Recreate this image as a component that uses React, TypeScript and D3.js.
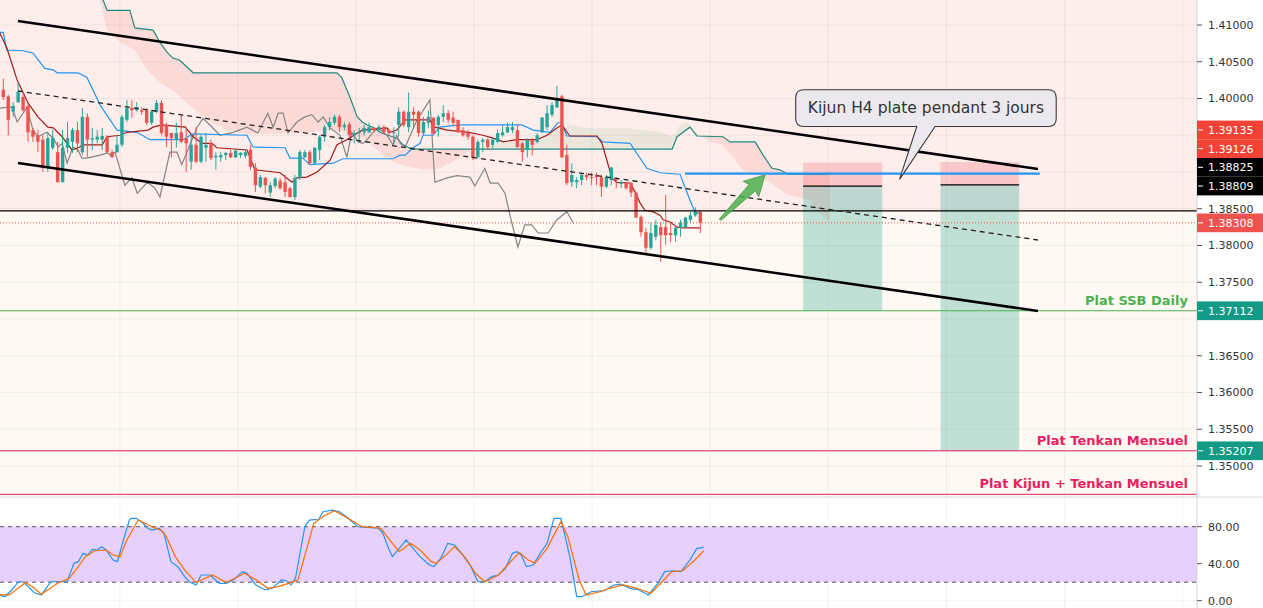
import React from 'react';
import * as d3 from 'd3';

type P = [number, number];
type C = [number, number, number, number];

// H4 candles [open, high, low, close]
const candles: C[] = [
  [1.4012, 1.4027, 1.3998, 1.4002], [1.4003, 1.4005, 1.395, 1.3971], [1.3982, 1.3995, 1.3975, 1.399], [1.3995, 1.4021, 1.3994, 1.4009],
  [1.4002, 1.4009, 1.3982, 1.3984], [1.399, 1.3994, 1.3941, 1.3954], [1.3957, 1.396, 1.3941, 1.3948], [1.395, 1.3957, 1.3927, 1.3941],
  [1.3944, 1.395, 1.39, 1.3907], [1.3907, 1.3954, 1.39, 1.3946], [1.3933, 1.3957, 1.393, 1.3946], [1.3927, 1.3941, 1.3886, 1.3886],
  [1.3886, 1.3957, 1.3886, 1.3933], [1.3933, 1.3968, 1.3926, 1.3946], [1.3941, 1.396, 1.3926, 1.3957], [1.3957, 1.3968, 1.3927, 1.3939],
  [1.3927, 1.3987, 1.3923, 1.3975], [1.3975, 1.398, 1.392, 1.3944], [1.3944, 1.396, 1.393, 1.3946], [1.3944, 1.3957, 1.3939, 1.3948],
  [1.3944, 1.396, 1.393, 1.3949], [1.3948, 1.395, 1.3926, 1.3927], [1.3927, 1.393, 1.392, 1.392], [1.3927, 1.395, 1.3926, 1.3937],
  [1.3937, 1.3978, 1.3934, 1.3975], [1.3971, 1.3998, 1.3968, 1.3987], [1.3987, 1.3998, 1.3974, 1.3984], [1.3984, 1.3995, 1.3982, 1.3988],
  [1.3984, 1.3988, 1.3978, 1.3982], [1.3984, 1.3987, 1.3964, 1.3967], [1.3967, 1.3984, 1.3964, 1.3982], [1.3982, 1.3998, 1.398, 1.3994],
  [1.3994, 1.3998, 1.395, 1.3953], [1.3964, 1.3967, 1.3934, 1.3948], [1.3953, 1.3953, 1.392, 1.3946], [1.3944, 1.3967, 1.3933, 1.3953],
  [1.3954, 1.3978, 1.3939, 1.3941], [1.3946, 1.3961, 1.39, 1.3939], [1.3914, 1.3953, 1.3903, 1.3937], [1.3937, 1.3961, 1.3912, 1.3914],
  [1.3914, 1.395, 1.3912, 1.3948], [1.3933, 1.3953, 1.3914, 1.3937], [1.3939, 1.3944, 1.3916, 1.3919], [1.392, 1.3927, 1.3903, 1.3922],
  [1.392, 1.3927, 1.3914, 1.3923], [1.3923, 1.3927, 1.3916, 1.3926], [1.3926, 1.393, 1.3919, 1.392], [1.392, 1.393, 1.3919, 1.3929],
  [1.3923, 1.3927, 1.3919, 1.3926], [1.3922, 1.393, 1.3919, 1.3927], [1.393, 1.3937, 1.3903, 1.3907], [1.3906, 1.3912, 1.3873, 1.3882],
  [1.388, 1.3896, 1.3878, 1.3893], [1.3892, 1.3893, 1.3871, 1.3882], [1.3872, 1.3886, 1.3866, 1.3882], [1.3881, 1.3893, 1.3878, 1.3891],
  [1.3888, 1.3892, 1.3876, 1.3878], [1.3886, 1.3896, 1.3866, 1.3873], [1.3878, 1.388, 1.3865, 1.3866], [1.3866, 1.3896, 1.3862, 1.3892],
  [1.3892, 1.393, 1.3889, 1.3927], [1.392, 1.393, 1.3919, 1.3927], [1.3927, 1.393, 1.391, 1.3912], [1.3912, 1.3934, 1.391, 1.3933],
  [1.393, 1.395, 1.3916, 1.3948], [1.3948, 1.3964, 1.3941, 1.3961], [1.3961, 1.3975, 1.3957, 1.3968], [1.3967, 1.3978, 1.3964, 1.3975],
  [1.3975, 1.3978, 1.3954, 1.3961], [1.3961, 1.3968, 1.3957, 1.3964], [1.3965, 1.3968, 1.3944, 1.395], [1.395, 1.3957, 1.3939, 1.3953],
  [1.3953, 1.396, 1.3941, 1.3954], [1.3954, 1.3964, 1.395, 1.396], [1.3954, 1.3967, 1.3953, 1.3961], [1.396, 1.3961, 1.3954, 1.3957],
  [1.3957, 1.3964, 1.3954, 1.3961], [1.3961, 1.3964, 1.3953, 1.3954], [1.3957, 1.396, 1.395, 1.3953], [1.3953, 1.3961, 1.3937, 1.3954],
  [1.3964, 1.3988, 1.3948, 1.3982], [1.3982, 1.3984, 1.3961, 1.3964], [1.3961, 1.4008, 1.3954, 1.3982], [1.3982, 1.3988, 1.3961, 1.3978],
  [1.3982, 1.3984, 1.3948, 1.3953], [1.3953, 1.3975, 1.395, 1.3968], [1.3967, 1.3984, 1.396, 1.3975], [1.3974, 1.3974, 1.395, 1.3953],
  [1.3964, 1.3978, 1.3948, 1.3975], [1.3975, 1.3991, 1.3968, 1.398], [1.398, 1.3984, 1.3967, 1.3971], [1.3974, 1.3982, 1.3964, 1.3967],
  [1.3971, 1.3971, 1.3953, 1.3954], [1.3957, 1.3961, 1.3948, 1.395], [1.3953, 1.3957, 1.3944, 1.3948], [1.3948, 1.395, 1.3916, 1.3919],
  [1.392, 1.3944, 1.3919, 1.3941], [1.3941, 1.3946, 1.3927, 1.3944], [1.3944, 1.3946, 1.393, 1.3934], [1.3937, 1.3946, 1.3933, 1.3944],
  [1.3941, 1.3957, 1.3939, 1.3953], [1.395, 1.3964, 1.3948, 1.3954], [1.3954, 1.3967, 1.3953, 1.3961], [1.3957, 1.3968, 1.3953, 1.3961],
  [1.3957, 1.3964, 1.3933, 1.3934], [1.3939, 1.3941, 1.3914, 1.3927], [1.393, 1.3946, 1.392, 1.3944], [1.3944, 1.3946, 1.3923, 1.3937],
  [1.3941, 1.3953, 1.3939, 1.395], [1.3954, 1.3975, 1.3953, 1.3974], [1.3961, 1.3991, 1.3957, 1.398], [1.3978, 1.3995, 1.3975, 1.3991],
  [1.3988, 1.4017, 1.3987, 1.3999], [1.4003, 1.4005, 1.3919, 1.392], [1.3923, 1.3937, 1.3882, 1.3885], [1.3886, 1.3912, 1.388, 1.3896],
  [1.3886, 1.3893, 1.3878, 1.3889], [1.3889, 1.3899, 1.3882, 1.3896], [1.3896, 1.3899, 1.3889, 1.3893], [1.3893, 1.3899, 1.3882, 1.3892],
  [1.3896, 1.3899, 1.3882, 1.3893], [1.3893, 1.3896, 1.3866, 1.388], [1.388, 1.3896, 1.3878, 1.3893], [1.3889, 1.3907, 1.3882, 1.3906],
  [1.3892, 1.3893, 1.3878, 1.3889], [1.3884, 1.3889, 1.3878, 1.3886], [1.3885, 1.3886, 1.3876, 1.3878], [1.3885, 1.3886, 1.3866, 1.3872],
  [1.3872, 1.3873, 1.3838, 1.3838], [1.3839, 1.3841, 1.3812, 1.3818], [1.3818, 1.3824, 1.379, 1.3797], [1.3797, 1.3831, 1.3794, 1.3817],
  [1.3812, 1.3835, 1.3807, 1.3828], [1.3825, 1.3832, 1.3778, 1.3814], [1.3825, 1.3869, 1.3801, 1.3814], [1.3817, 1.3832, 1.3805, 1.3814],
  [1.3814, 1.3825, 1.3805, 1.3824], [1.3824, 1.3835, 1.3812, 1.3831], [1.3825, 1.3839, 1.3824, 1.3838], [1.3835, 1.3846, 1.3831, 1.3841],
  [1.3841, 1.3852, 1.3839, 1.3846], [1.3846, 1.3846, 1.3817, 1.38308],
];

// Ichimoku lines [bar, price]
const tenkan: P[] = [
  [-0.7, 1.4089], [0.7, 1.4069], [2.8, 1.4025], [5, 1.3994], [7, 1.3975], [9, 1.3961], [10.1, 1.396], [11.9, 1.3948],
  [13.9, 1.393], [15.5, 1.3934], [16.1, 1.3937], [20, 1.3937], [21, 1.3948], [23.6, 1.395], [25, 1.3954], [29.3, 1.3957],
  [30.3, 1.3961], [32.1, 1.3964], [36.8, 1.3961], [38.4, 1.3948], [40.2, 1.3939], [42.2, 1.3939], [43.2, 1.3933], [49.3, 1.393],
  [49.9, 1.392], [50.9, 1.3903], [56, 1.3899], [58.4, 1.3886], [59.4, 1.3892], [61.4, 1.3893], [63.5, 1.39], [66.1, 1.3916],
  [67.5, 1.3937], [69.5, 1.3944], [72.6, 1.3957], [77.6, 1.396], [78.2, 1.3954], [79.6, 1.3957], [81.3, 1.3971], [86.3, 1.3971],
  [87.3, 1.3961], [89.8, 1.3957], [94.2, 1.3954], [97, 1.395], [99.1, 1.3946], [101.1, 1.3941], [103.9, 1.3944], [108, 1.3944],
  [110, 1.395], [112, 1.396], [113, 1.3964], [114.6, 1.3949], [120.1, 1.3949], [121.1, 1.3939], [122.1, 1.3916], [123.1, 1.3892],
  [124.1, 1.3886], [126.8, 1.3885], [127.8, 1.3873], [128.8, 1.3858], [129.8, 1.3848], [131.4, 1.3846], [132.9, 1.3841],
  [133.5, 1.3835], [134.9, 1.3832], [136.3, 1.3825], [137.5, 1.3824], [141, 1.3824],
];
const kijun: P[] = [
  [-0.7, 1.409], [0, 1.409], [0.7, 1.4066], [4, 1.4065], [6, 1.4062], [8.4, 1.4041], [10.1, 1.4039], [10.9, 1.4035],
  [15.1, 1.4035], [16.9, 1.4029], [19.6, 1.3991], [21.6, 1.3971], [23, 1.3957], [27, 1.3954], [29.7, 1.3944], [36.4, 1.3944],
  [37.8, 1.395], [38.4, 1.3952], [49.3, 1.395], [50.5, 1.3934], [57, 1.3933], [58, 1.3919], [60.6, 1.3919], [62, 1.391],
  [66.7, 1.3912], [68.7, 1.3918], [78.8, 1.3918], [80.3, 1.3923], [81.3, 1.3923], [82.9, 1.3933], [84.3, 1.3939], [84.9, 1.395],
  [86.9, 1.395], [88.3, 1.3961], [92.4, 1.3964], [104.9, 1.3964], [107.2, 1.3957], [110.6, 1.3954], [112.2, 1.3967],
  [113, 1.3967], [114, 1.3949], [120.1, 1.3948], [121.3, 1.3941], [126.8, 1.3939], [130.2, 1.3905], [132.9, 1.3899],
  [136.9, 1.3897], [138.9, 1.3862], [139.9, 1.3846], [141, 1.3843],
];
const chikou: P[] = [
  [-0.7, 1.3987], [0.7, 1.3988], [1.8, 1.3988], [2.8, 1.3968], [4.8, 1.3988], [6, 1.3957], [7, 1.3948], [8.8, 1.3954],
  [10.1, 1.3946], [11.1, 1.3934], [11.9, 1.3939], [12.9, 1.3912], [14.1, 1.3934], [15.1, 1.393], [15.9, 1.3919], [16.9, 1.3919],
  [19.6, 1.3923], [21, 1.3926], [21.6, 1.3923], [22.6, 1.3927], [24.6, 1.3882], [26, 1.3892], [27.1, 1.3871], [29.1, 1.3886],
  [30.7, 1.3878], [31.7, 1.3866], [33.7, 1.3927], [35.1, 1.3927], [36.1, 1.391], [39.2, 1.3961], [40.4, 1.3973], [41.8, 1.3964],
  [43.8, 1.395], [46.5, 1.3954], [49.3, 1.3961], [51.5, 1.3953], [53.5, 1.398], [54.6, 1.3961], [55.6, 1.398], [56.6, 1.398],
  [57.6, 1.3953], [59.4, 1.3968], [61, 1.3975], [62.4, 1.3978], [63.7, 1.3968], [64.7, 1.3975], [66.1, 1.396], [68.1, 1.395],
  [69.5, 1.392], [70.5, 1.3954], [71.8, 1.3941], [72.8, 1.3939], [73.6, 1.3944], [74.8, 1.3954], [75.8, 1.396], [77.6, 1.395],
  [78.8, 1.3937], [79.6, 1.395], [80.3, 1.3939], [81.3, 1.3934], [83.7, 1.3971], [86.3, 1.3998], [87.3, 1.3886], [89.8, 1.3892],
  [91.8, 1.3895], [94.4, 1.3893], [95.4, 1.3881], [97.4, 1.3905], [98.5, 1.3885], [100.1, 1.3885], [101.5, 1.3871],
  [102.5, 1.3841], [104.1, 1.3798], [105.5, 1.3828], [106.9, 1.3828], [108.2, 1.3817], [110.2, 1.3817], [112, 1.3835],
  [114, 1.3846], [115.3, 1.3831],
];
const senkouA: P[] = [
  [19, 1.4161], [20.2, 1.4114], [21, 1.4093], [23.6, 1.4077], [26.6, 1.4066], [29.1, 1.4039], [31.7, 1.4022], [35.1, 1.4007],
  [37.2, 1.3994], [39.8, 1.3978], [42.4, 1.3967], [45.3, 1.3957], [47.9, 1.3953], [53.3, 1.3952], [60, 1.3953], [66.1, 1.3957],
  [70.1, 1.3953], [73.2, 1.3944], [75.6, 1.393], [78.2, 1.3916], [81.3, 1.3908], [85.3, 1.3903], [88.3, 1.3905], [91.4, 1.3916],
  [94.4, 1.393], [97.8, 1.3934], [101.1, 1.3939], [105.9, 1.3944], [108, 1.3941], [112, 1.3957], [114.6, 1.3964], [118.1, 1.396],
  [126.2, 1.396], [132.9, 1.3954], [135.5, 1.3948], [136.9, 1.3964], [138.3, 1.3968], [140.3, 1.3953], [143, 1.3941],
  [145.4, 1.3937], [147.6, 1.392], [149.6, 1.3903], [153.7, 1.3893], [158.6, 1.3869], [163.2, 1.3862], [164.6, 1.3848],
  [166.6, 1.3835], [167.2, 1.3835],
];
const senkouB: P[] = [
  [19, 1.4175], [20.2, 1.4134], [21, 1.412], [25.6, 1.412], [26.6, 1.4096], [30.3, 1.4093], [31.7, 1.4076], [33.1, 1.4063],
  [34.3, 1.4055], [35.7, 1.4052], [38.4, 1.4035], [67.5, 1.4035], [68.5, 1.4028], [70.1, 1.4002], [71.6, 1.3975], [72.6, 1.3968],
  [73.6, 1.3964], [74.8, 1.3961], [76.2, 1.3954], [77.8, 1.395], [79.6, 1.3946], [80.9, 1.3937], [82.7, 1.3931], [135.3, 1.3931],
  [136.3, 1.3948], [138.9, 1.3961], [140.3, 1.3949], [145.6, 1.3948], [147, 1.3941], [152.1, 1.3941], [153.7, 1.3923],
  [155.5, 1.3905], [157.1, 1.3903], [158.7, 1.3897], [167.2, 1.3897],
];
const cloudBullish: P = [95.5, 140.3];

// Stochastic %K / %D [bar, value]
const stochK: P[] = [
  [-0.7, 6.2], [0.3, 4.3], [1.7, 11.6], [3.1, 20.5], [4, 20.5], [6.3, 8.6], [7.7, 6.2], [9.6, 20.5], [12.9, 20.5], [14.3, 40.4],
  [15.2, 42.2], [16.1, 51.2], [17.1, 49.4], [18, 55.5], [18.9, 54.8], [19.9, 58.4], [20.8, 54.8], [22.2, 44], [23.1, 42.2],
  [24.1, 62], [25.5, 87.2], [25.9, 89], [26.9, 89], [28.3, 83.7], [29.2, 78.3], [30.1, 76.4], [31.5, 78.3], [32.5, 72.9],
  [33.9, 42.2], [35.3, 36.8], [36.7, 26], [37.6, 20.5], [39, 17], [40, 27.8], [41.8, 27.8], [43.7, 18.8], [45.1, 18.8],
  [46.5, 22.4], [48.4, 31.4], [49.3, 29.6], [51.1, 17], [53, 11.6], [54.4, 13.4], [56.3, 22.4], [57.2, 21.6], [58.2, 17],
  [59.1, 24.2], [61, 80], [61.9, 87.2], [63.8, 88], [64.7, 96.2], [66.6, 98], [68, 96.2], [69.4, 90.8], [71.7, 80], [73.1, 79.4],
  [75.9, 78.3], [76.8, 72.9], [77.8, 58.4], [78.7, 47.6], [80.1, 56.6], [81.5, 65.6], [82.9, 56.6], [84.3, 47.6], [86.2, 38.6],
  [87.1, 36.8], [88.5, 45.8], [89.9, 62], [91.3, 60.2], [92.7, 51.2], [94.6, 36.8], [96, 20.5], [97.4, 20.5], [98.8, 26],
  [100.2, 27.8], [101.6, 35], [103, 51.2], [103.9, 53], [104.8, 49.4], [105.8, 36.8], [107.2, 38.6], [108.6, 51.2], [110, 62],
  [111.4, 89], [112.8, 89], [114.6, 47.6], [116, 4.3], [117, 4.3], [118.9, 9.7], [121.6, 10.8], [123.5, 17], [124.9, 18],
  [126.8, 13.4], [128.6, 11.6], [130.5, 6.2], [132.4, 18.8], [133.8, 31.4], [135.2, 32.4], [137.1, 31.4], [138.9, 44],
  [140.3, 56.6], [141.7, 57.7],
];
const stochD: P[] = [
  [-0.7, 6.2], [1.2, 6.2], [4.5, 19.6], [5.9, 15], [7.7, 7], [11, 18.8], [13.3, 24], [15.2, 37], [16.6, 47.6], [18.5, 54],
  [20.8, 54.8], [22.2, 49.4], [23.6, 47.6], [25, 65.6], [27.3, 87.2], [30.1, 80], [32, 76], [33, 69], [34.8, 47.6], [36.7, 33],
  [39, 19.6], [42.3, 27.8], [45.1, 19.6], [48.8, 29.6], [51.2, 22.4], [53.5, 13.4], [55.4, 15], [57.7, 18.8], [59.6, 22.4],
  [61.4, 56.6], [62.8, 83.7], [64.7, 91], [67, 97.3], [70.3, 87.2], [72.6, 80], [76.4, 78.3], [78.2, 65.6], [80.1, 53],
  [82.4, 62], [84.3, 54.8], [86.6, 42.2], [87.6, 40.4], [89.9, 51.2], [91.3, 58.4], [93.6, 45.8], [95.5, 29.6], [97.4, 20.5],
  [100.2, 27.8], [102, 38.6], [104.4, 52], [106.2, 44], [107.6, 40.4], [110, 56.6], [112.8, 85.4], [114.2, 69.2], [116.5, 22.4],
  [117.9, 6.2], [120.7, 9.7], [122.6, 13.4], [125.4, 17], [128.2, 13.4], [131, 8], [133.3, 20.5], [135.2, 31.4], [137.5, 32.4],
  [139.9, 44], [141.7, 54],
];

// drawings
const channelTop: P[] = [[2.97, 1.41054], [209.3, 1.39041]];
const channelBottom: P[] = [[2.97, 1.39122], [209.3, 1.37109]];
const channelMid: P[] = [[2.97, 1.40102], [209.3, 1.38075]];
const kijunFlat: P[] = [[137.9, 1.38977], [209.7, 1.38977]];
const arrowPts: P[] = [[145.0, 1.3835], [154.1, 1.3896]];
const zoneTop = 1.3847;
const lastPrice = 1.38308;
// short positions: [bar start, bar end, stop, entry, target]
const positions: number[][] = [
  [161.8, 177.8, 1.39126, 1.38809, 1.37112],
  [189.6, 205.5, 1.39135, 1.38825, 1.35207],
];
const calloutText = 'Kijun H4 plate pendant 3 jours';
const calloutBox = { b0: 160.3, b1: 213.0, p0: 1.4012, p1: 1.3962, tipB: 181.3, tipP: 1.389, baseB0: 184.8, baseB1: 188.5 };
const levelPrices = [1.37112, 1.35207, 1.34615];
const levelLabels = ['Plat SSB Daily', 'Plat Tenkan Mensuel', 'Plat Kijun + Tenkan Mensuel'];
const levelColors = ['#4caf50', '#e91e63', '#e91e63'];

const priceTicks = [1.41, 1.405, 1.4, 1.395, 1.39, 1.385, 1.38, 1.375, 1.37, 1.365, 1.36, 1.355, 1.35];
const stochTicks = [80, 40, 0];
const timeGrid = [23.6, 47.5, 71.3, 95.2, 119.1, 143.0, 166.9, 190.8, 214.7, 238.6];
const tagPrices = [1.39135, 1.39126, 1.38825, 1.38809, 1.38308, 1.37112, 1.35207];
const tagColors = ['#f44336', '#f44336', '#000000', '#000000', '#ef5350', '#129a86', '#129a86'];

const FONT = "'DejaVu Sans', Verdana, sans-serif";

export default function App() {
  const W = 1263;
  const H = 608;
  const R = 1197;
  const MB = 496;
  const TAG_H = 18.7;

  const x = d3.scaleLinear().domain([0, 141]).range([3.3, 700.3]);
  const y = d3.scaleLinear().domain([1.41, 1.35]).range([25, 466]);
  const ys = d3.scaleLinear().domain([0, 80]).range([600.7, 526.7]);
  const ln = d3.line<P>().x((d) => x(d[0])).y((d) => y(d[1]));
  const lnS = d3.line<P>().x((d) => x(d[0])).y((d) => ys(d[1]));

  const cloudPath = ln([...senkouA, ...senkouB.slice().reverse()]) + 'Z';

  // stack axis tags so they don't overlap
  const tags = tagPrices
    .map((p, i) => ({ p, color: tagColors[i], cy: y(p) }))
    .sort((a, b) => a.cy - b.cy);
  for (let i = tags.length - 2; i >= 0; i--) {
    if (tags[i].cy > tags[i + 1].cy - TAG_H) tags[i].cy = tags[i + 1].cy - TAG_H;
  }
  // tick labels hidden under a tag are not drawn (the tag covers them)
  const visibleTicks = priceTicks.filter((t) => tags.every((g) => Math.abs(g.cy - y(t)) > 12));

  // arrow
  const ax0 = x(arrowPts[0][0]);
  const ay0 = y(arrowPts[0][1]);
  const ax1 = x(arrowPts[1][0]);
  const ay1 = y(arrowPts[1][1]);
  const aLen = Math.hypot(ax1 - ax0, ay1 - ay0);
  const aAng = (Math.atan2(ay1 - ay0, ax1 - ax0) * 180) / Math.PI;
  const arrowPoly = [
    [0, -1], [aLen - 18, -4.5], [aLen - 20, -11], [aLen, 0], [aLen - 20, 11], [aLen - 18, 4.5], [0, 1],
  ].map((d) => d.join(',')).join(' ');

  // callout
  const cL = x(calloutBox.b0);
  const cR = x(calloutBox.b1);
  const cT = y(calloutBox.p0);
  const cB = y(calloutBox.p1);
  const cr = 8;
  const callPath = `M${cL + cr},${cT} H${cR - cr} Q${cR},${cT} ${cR},${cT + cr} V${cB - cr} Q${cR},${cB} ${cR - cr},${cB}
    H${x(calloutBox.baseB1)} L${x(calloutBox.tipB)},${y(calloutBox.tipP)} L${x(calloutBox.baseB0)},${cB}
    H${cL + cr} Q${cL},${cB} ${cL},${cB - cr} V${cT + cr} Q${cL},${cT} ${cL + cr},${cT} Z`;

  return (
    <div style={{ width: W, height: H }}>
      <style>{'body{margin:0}'}</style>
      <svg width={W} height={H} style={{ display: 'block', fontFamily: FONT }}>
        <defs>
          <clipPath id="main">
            <rect x={0} y={0} width={R} height={MB} />
          </clipPath>
          <clipPath id="stoch">
            <rect x={0} y={498} width={R} height={H - 498} />
          </clipPath>
          <clipPath id="bear">
            <rect x={0} y={0} width={x(cloudBullish[0])} height={MB} />
            <rect x={x(cloudBullish[1])} y={0} width={R} height={MB} />
          </clipPath>
          <clipPath id="bull">
            <rect x={x(cloudBullish[0])} y={0} width={x(cloudBullish[1]) - x(cloudBullish[0])} height={MB} />
          </clipPath>
        </defs>

        <rect x={0} y={0} width={W} height={H} fill="#ffffff" />

        {/* main pane */}
        <g clipPath="url(#main)">
          <rect x={0} y={0} width={R} height={y(zoneTop)} fill="#fdedeb" />
          <rect x={0} y={y(zoneTop)} width={R} height={MB - y(zoneTop)} fill="#fef9f3" />

          {priceTicks.map((t) => (
            <line key={t} x1={0} x2={R} y1={y(t)} y2={y(t)} stroke="#2a2e39" strokeOpacity={0.06} />
          ))}
          {timeGrid.map((b) => (
            <line key={b} x1={x(b)} x2={x(b)} y1={0} y2={MB} stroke="#2a2e39" strokeOpacity={0.06} />
          ))}

          <path d={cloudPath} fill="#f44336" fillOpacity={0.11} clipPath="url(#bear)" />
          <path d={cloudPath} fill="#4caf50" fillOpacity={0.1} clipPath="url(#bull)" />

          {positions.map(([b0, b1, stop, entry, target], i) => (
            <g key={i}>
              <rect x={x(b0)} y={y(stop)} width={x(b1) - x(b0)} height={y(entry) - y(stop)} fill="#f23645" fillOpacity={0.2} />
              <rect x={x(b0)} y={y(entry)} width={x(b1) - x(b0)} height={y(target) - y(entry)} fill="#089981" fillOpacity={0.25} />
              <line x1={x(b0)} x2={x(b1)} y1={y(entry)} y2={y(entry)} stroke="#000" strokeWidth={1.3} />
            </g>
          ))}

          <path d={ln(senkouB) ?? ''} fill="none" stroke="#218a7c" strokeWidth={1.2} />
          <path d={ln(chikou) ?? ''} fill="none" stroke="#868686" strokeWidth={1.2} />
          <path d={ln(kijun) ?? ''} fill="none" stroke="#2196f3" strokeWidth={1.2} />
          <path d={ln(tenkan) ?? ''} fill="none" stroke="#a31c1c" strokeWidth={1.2} />

          {candles.map(([o, h, l, c], i) => {
            const up = c >= o;
            const col = up ? '#26a69a' : '#ef5350';
            const top = y(Math.max(o, c));
            const bh = Math.max(1, Math.abs(y(o) - y(c)));
            return (
              <g key={i}>
                <line x1={x(i)} x2={x(i)} y1={y(h)} y2={y(l)} stroke={col} strokeWidth={1} />
                <rect x={x(i) - 1.7} y={top} width={3.4} height={bh} fill={col} />
              </g>
            );
          })}

          <line x1={0} x2={R} y1={y(zoneTop)} y2={y(zoneTop)} stroke="#000" strokeWidth={1.2} />
          <line x1={0} x2={R} y1={y(lastPrice)} y2={y(lastPrice)} stroke="#ef5350" strokeWidth={1} strokeDasharray="1 2" />
          {levelPrices.map((p, i) => (
            <line key={p} x1={0} x2={R} y1={y(p)} y2={y(p)} stroke={levelColors[i]} strokeWidth={1} />
          ))}

          <path d={ln(channelTop) ?? ''} stroke="#000" strokeWidth={2.6} fill="none" />
          <path d={ln(channelBottom) ?? ''} stroke="#000" strokeWidth={2.6} fill="none" />
          <path d={ln(channelMid) ?? ''} stroke="#222" strokeWidth={1.3} strokeDasharray="5 4" fill="none" />
          <path d={ln(kijunFlat) ?? ''} stroke="#2196f3" strokeWidth={2.2} fill="none" />

          <polygon
            points={arrowPoly}
            transform={`translate(${ax0},${ay0}) rotate(${aAng})`}
            fill="#4caf50"
            fillOpacity={0.85}
            stroke="#43a047"
            strokeWidth={0.8}
          />

          <path d={callPath} fill="#ebe9ee" stroke="#3a3a3a" strokeWidth={1.1} />
          <text x={(cL + cR) / 2} y={cT + 23.3} textAnchor="middle" fontSize={15.5} fill="#333">
            {calloutText}
          </text>

          {levelPrices.map((p, i) => (
            <text key={p} x={1188} y={y(p) - 6} textAnchor="end" fontSize={13} fontWeight="bold" fill={levelColors[i]}>
              {levelLabels[i]}
            </text>
          ))}
        </g>

        {/* stochastic pane */}
        <g clipPath="url(#stoch)">
          {timeGrid.map((b) => (
            <line key={b} x1={x(b)} x2={x(b)} y1={498} y2={H} stroke="#2a2e39" strokeOpacity={0.06} />
          ))}
          {stochTicks.map((t) => (
            <line key={t} x1={0} x2={R} y1={ys(t)} y2={ys(t)} stroke="#2a2e39" strokeOpacity={0.06} />
          ))}
          <rect x={0} y={ys(80)} width={R} height={ys(20) - ys(80)} fill="#e8d0fc" />
          <line x1={0} x2={R} y1={ys(80)} y2={ys(80)} stroke="#555" strokeDasharray="4 4" />
          <line x1={0} x2={R} y1={ys(20)} y2={ys(20)} stroke="#555" strokeDasharray="4 4" />
          <path d={lnS(stochK) ?? ''} fill="none" stroke="#2196f3" strokeWidth={1.2} />
          <path d={lnS(stochD) ?? ''} fill="none" stroke="#ff6d00" strokeWidth={1.2} />
        </g>

        {/* separators */}
        <line x1={0} x2={W} y1={497} y2={497} stroke="#e0e3eb" strokeWidth={1.5} />
        <line x1={R} x2={R} y1={0} y2={H} stroke="#d1d4dc" strokeWidth={1} />

        {/* price axis */}
        {priceTicks.map((t) => (
          <line key={t} x1={R} x2={R + 5} y1={y(t)} y2={y(t)} stroke="#555" />
        ))}
        {visibleTicks.map((t) => (
          <text key={t} x={1208} y={y(t)} dy="0.36em" fontSize={11} fill="#333">
            {t.toFixed(5)}
          </text>
        ))}
        {stochTicks.map((t) => (
          <g key={t}>
            <line x1={R} x2={R + 5} y1={ys(t)} y2={ys(t)} stroke="#555" />
            <text x={1208} y={ys(t)} dy="0.36em" fontSize={11} fill="#333">
              {t.toFixed(2)}
            </text>
          </g>
        ))}
        {tags.map((t) => (
          <g key={t.p}>
            <rect x={R} y={t.cy - TAG_H / 2} width={W - R} height={TAG_H} fill={t.color} />
            <line x1={R + 1} x2={R + 6} y1={t.cy} y2={t.cy} stroke="#fff" />
            <text x={1208} y={t.cy} dy="0.36em" fontSize={11} fill="#fff">
              {t.p.toFixed(5)}
            </text>
          </g>
        ))}
      </svg>
    </div>
  );
}
